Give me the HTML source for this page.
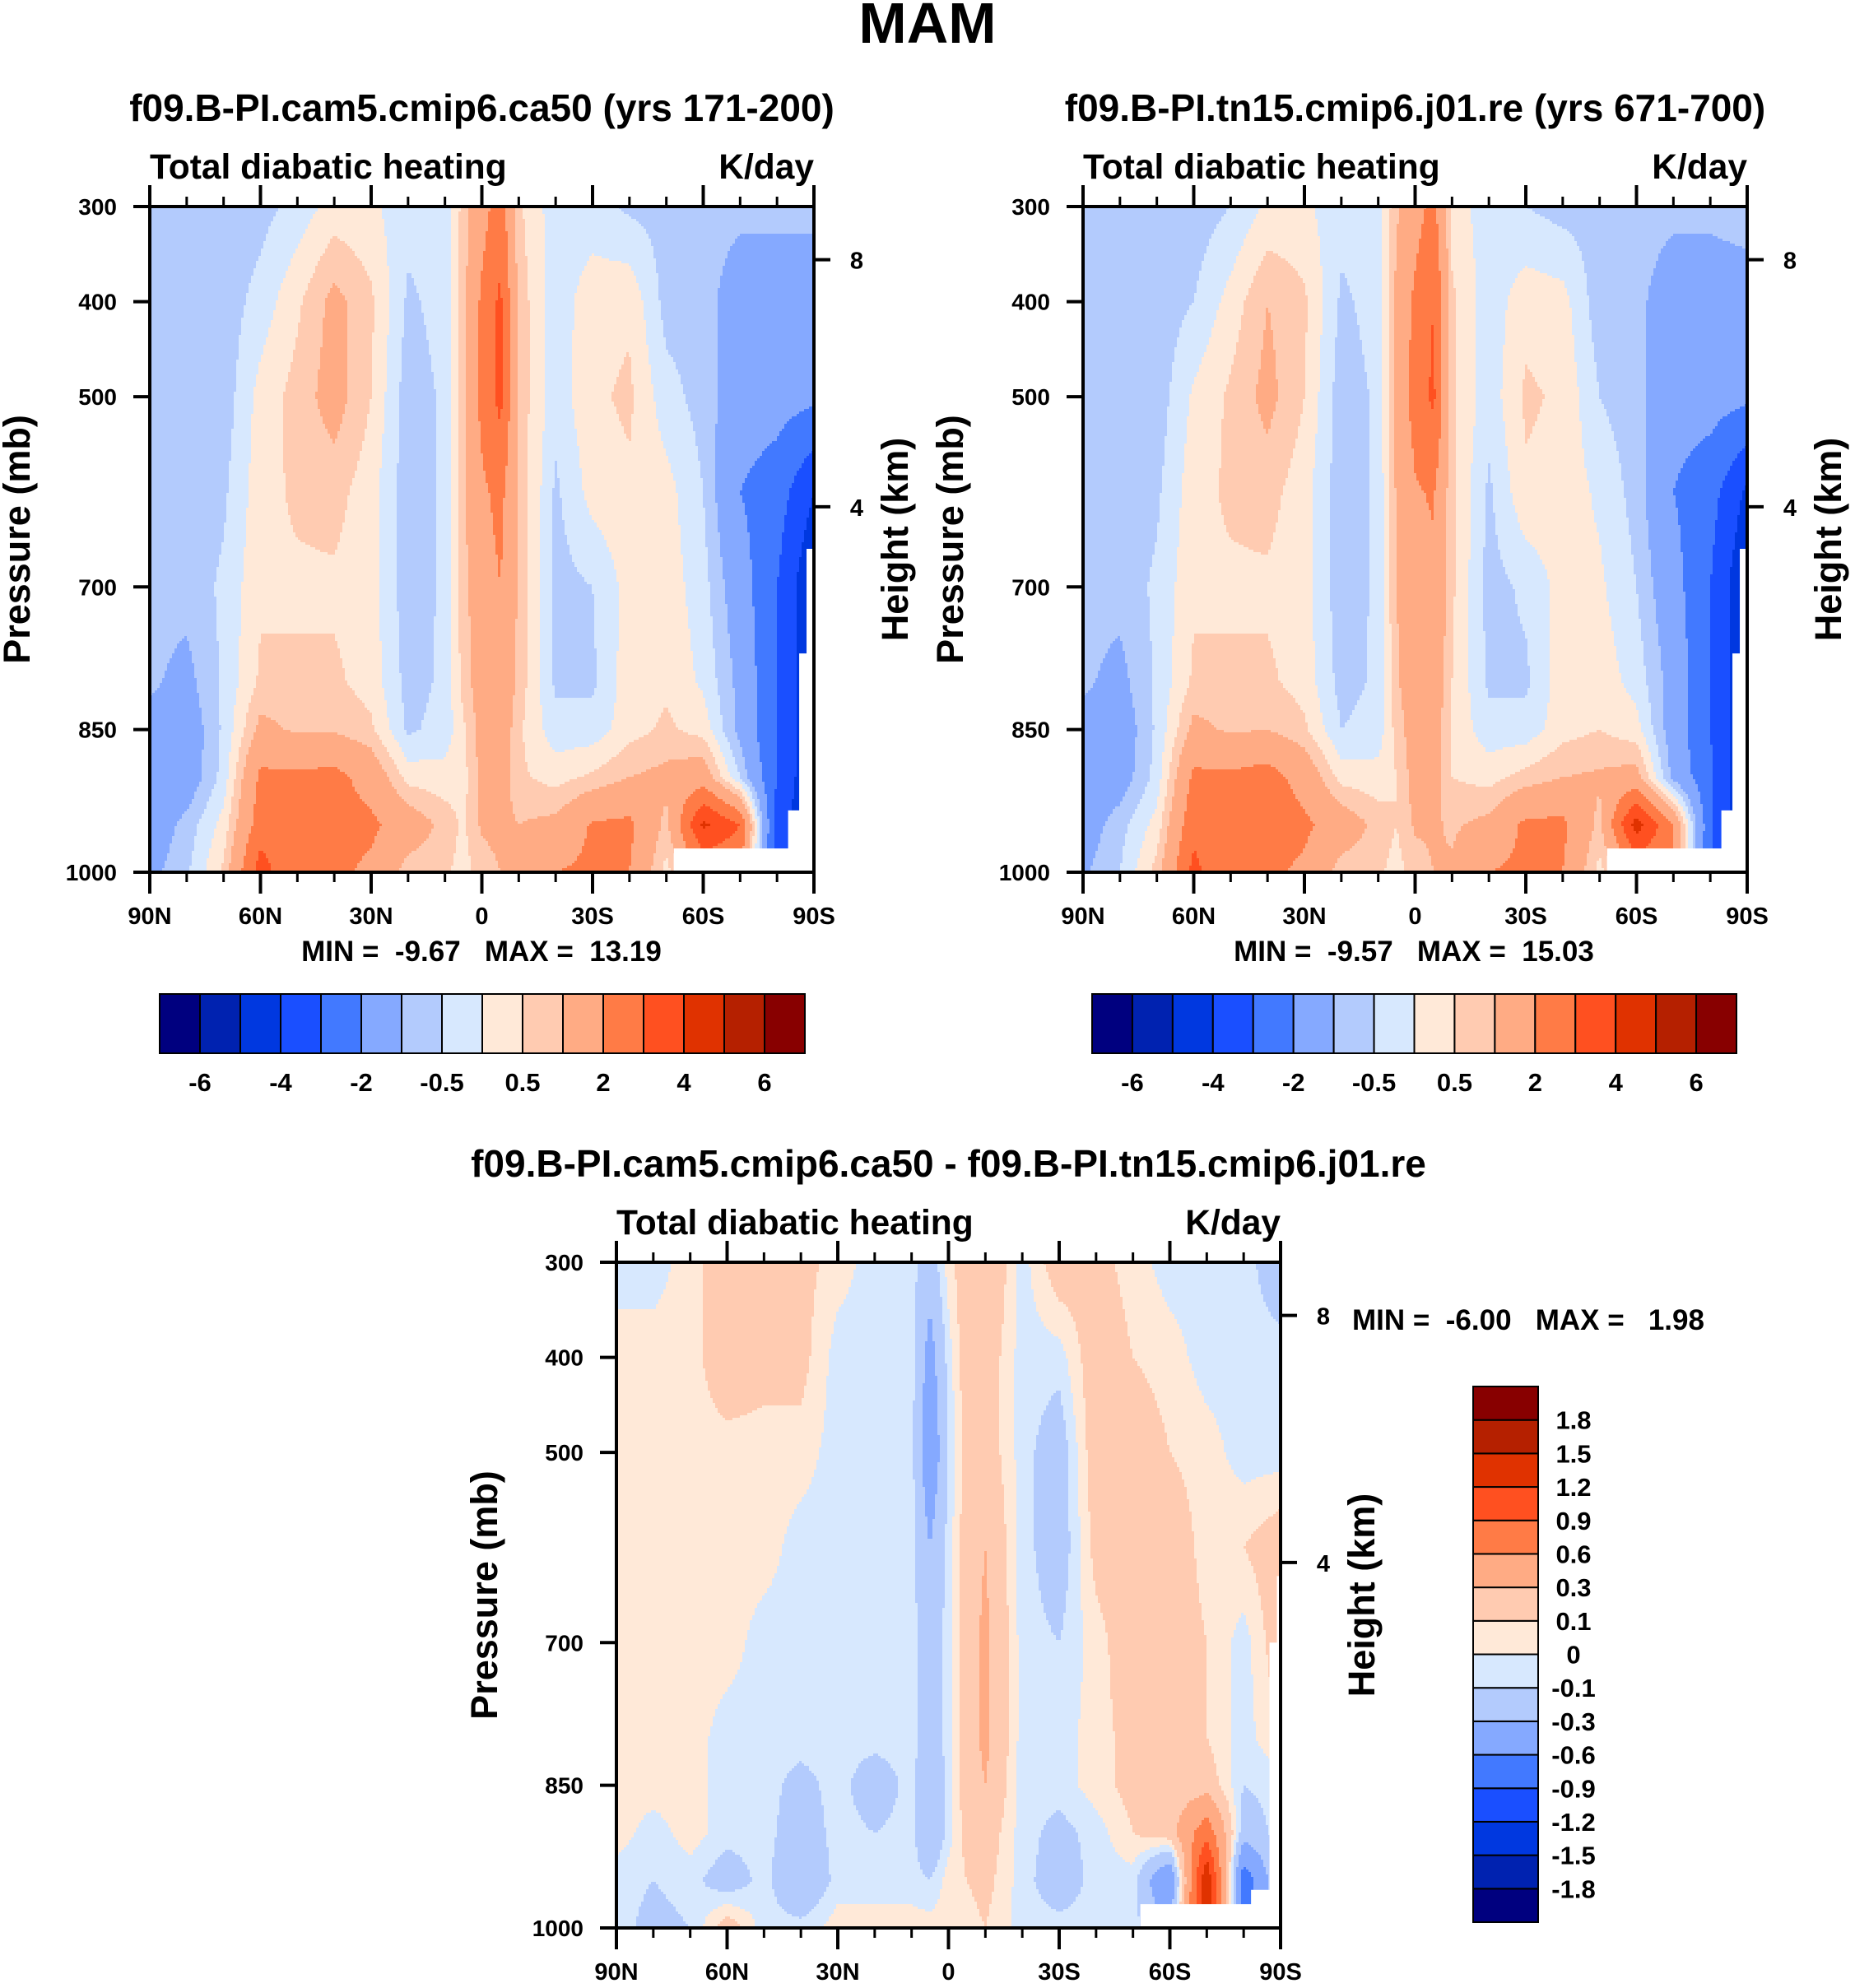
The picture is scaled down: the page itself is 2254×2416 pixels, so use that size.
<!DOCTYPE html>
<html><head><meta charset="utf-8">
<style>
html,body{margin:0;padding:0;background:#fff;}
svg{display:block;font-family:"Liberation Sans",Arial,sans-serif;font-weight:bold;}
.pre{white-space:pre;}
</style></head>
<body>
<svg id="fig" width="2254" height="2416" viewBox="0 0 2254 2416" xmlns="http://www.w3.org/2000/svg">
<rect width="2254" height="2416" fill="#fff"/>
<text x="1127" y="52" font-size="70" text-anchor="middle">MAM</text>
</svg>
<script>
// ---- data ----
const lats = [90,80,70,60,50,40,30,20,10,5,0,-5,-10,-20,-30,-40,-50,-60,-70,-80,-90];
const levels = [300,400,500,600,700,800,850,900,950,1000];
const pressureTicks = [300,400,500,700,850,1000];
const heightTicks = [8,4];
const latTickVals = [90,60,30,0,-30,-60,-90];
const latTickLabels = ["90N","60N","30N","0","30S","60S","90S"];
const absBounds = [-6,-5,-4,-3,-2,-1,-0.5,0,0.5,1,2,3,4,5,6];
const absLabels = ["-6","-4","-2","-0.5","0.5","2","4","6"];
const absColors = ["#00007f","#0022b0","#0038e0","#1a4fff","#4279ff","#85a9ff","#b3cbfd","#d7e8fe","#ffe9d8","#ffcbb1","#ffab84","#ff7b46","#ff5020","#e03200","#b52000","#880000"];
const diffBounds = [-1.8,-1.5,-1.2,-0.9,-0.6,-0.3,-0.1,0,0.1,0.3,0.6,0.9,1.2,1.5,1.8];
const diffLabels = ["-1.8","-1.5","-1.2","-0.9","-0.6","-0.3","-0.1","0","0.1","0.3","0.6","0.9","1.2","1.5","1.8"];
// missing-data (below surface) outline: [lat, pressure]
const maskLatsAB = [-52,-83,-83,-86,-86,-88,-88,-90];
const maskPresAB = [975,975,935,935,770,770,660,660];
const maskLatsD = [-52,-82,-82,-87,-87,-89,-89,-90];
const maskPresD = [975,975,960,960,700,700,630,630];
const field1 = [
[-0.7,-0.8,-0.8,-0.8,-0.8,-0.9,-1.2,-1.5,-1.5,-1.2],
[-0.8,-0.8,-0.8,-0.8,-0.8,-1.2,-1.5,-1.5,-0.8,-0.6],
[-0.8,-0.8,-0.8,-0.6,-0.4,-0.4,-0.4,-0.3,0.2,0.6],
[-0.7,-0.3,0.2,0.3,0.4,0.6,1.2,2.2,2.5,3.5],
[-0.3,0.4,0.7,0.6,0.4,0.6,0.9,2.2,2.3,2.0],
[0.2,1.2,1.3,0.7,0.4,0.6,0.9,2.3,2.4,2.2],
[0.1,0.6,0.5,0.2,0.2,0.3,0.6,1.6,2.2,1.8],
[-0.3,-0.6,-0.8,-0.8,-0.8,-0.7,-0.6,0.3,1.5,0.7],
[-0.3,-0.3,-0.4,-0.4,-0.4,-0.4,-0.3,0.2,0.8,0.6],
[0.7,0.8,0.9,0.9,0.8,0.7,0.4,0.3,0.4,0.3],
[1.6,2.2,2.3,1.8,1.5,1.4,1.3,1.2,1.1,0.7],
[2.5,3.2,3.3,2.3,2.0,1.8,1.6,1.4,1.2,1.0],
[0.6,0.8,0.8,0.9,0.9,0.8,0.6,0.6,1.0,1.2],
[-0.3,-0.3,-0.3,-0.6,-0.7,-0.6,-0.3,0.3,1.2,2.0],
[-0.3,0.3,0.4,0.2,-0.5,-0.6,-0.3,0.6,2.1,2.2],
[-0.6,0.4,0.6,0.4,0.2,0.3,0.3,1.0,2.2,2.0],
[-0.7,-0.7,-0.3,0.2,0.3,0.4,0.6,1.2,0.8,0.3],
[-0.7,-0.7,-0.7,-0.5,-0.3,-0.1,0.3,1.5,4.2,2.0],
[-0.8,-1.5,-1.5,-2,-1.5,-1.2,-1.2,-0.5,3,2.0],
[-0.8,-1.5,-1.6,-2.5,-3,-3,-3,-3,-3.5,-3.5],
[-0.8,-1.5,-1.8,-4,-5,-5,-5,-5,-5,-5]
];
const field2 = [
[-0.7,-0.8,-0.8,-0.8,-0.8,-0.9,-1.2,-1.5,-1.4,-1.1],
[-0.8,-0.8,-0.8,-0.8,-0.8,-1.2,-1.5,-1.4,-0.7,-0.5],
[-0.8,-0.8,-0.8,-0.6,-0.4,-0.4,-0.4,-0.3,0.2,0.7],
[-0.8,-0.5,0.1,0.3,0.4,0.6,1.2,2.2,2.7,3.3],
[-0.5,0.2,0.6,0.6,0.4,0.6,0.9,2.2,2.3,2.0],
[0.1,1.0,1.2,0.7,0.4,0.6,1.0,2.4,2.6,2.2],
[0.1,0.6,0.5,0.2,0.2,0.3,0.6,1.6,2.2,1.8],
[-0.3,-0.6,-0.8,-0.8,-0.8,-0.7,-0.5,0.3,1.5,0.7],
[-0.3,-0.3,-0.4,-0.4,-0.4,-0.4,-0.3,0.2,0.8,0.6],
[0.9,1.2,1.3,1.1,1.0,0.9,0.7,0.5,0.5,0.3],
[1.6,2.2,2.4,1.9,1.6,1.5,1.4,1.3,1.1,0.7],
[2.3,3.0,3.2,2.1,1.8,1.6,1.4,1.3,1.1,1.0],
[0.3,0.6,0.6,0.6,0.6,0.5,0.4,0.5,0.9,1.1],
[-0.3,-0.3,-0.3,-0.6,-0.7,-0.6,-0.3,0.3,1.2,2.0],
[-0.5,0.3,0.6,0.4,-0.4,-0.6,-0.3,0.7,2.2,2.2],
[-0.7,0.2,0.4,0.3,0.2,0.3,0.3,1.0,2.2,2.0],
[-0.7,-0.8,-0.5,-0.1,0.1,0.3,0.5,1.1,0.8,0.3],
[-0.7,-0.8,-0.8,-0.7,-0.5,-0.2,0.2,1.3,4.5,2.0],
[-0.8,-1.5,-1.6,-2,-1.6,-1.3,-1.4,-1.2,2.0,2.0],
[-0.8,-1.5,-1.6,-2.6,-3,-3,-3,-2.8,-2.8,-3],
[-0.6,-1.5,-1.8,-4.2,-5,-5,-5,-5,-5,-5]
];
const field3 = [
[-0.05,0.05,0.05,0.05,0.05,0.05,0.05,0.05,-0.05,-0.05],
[-0.05,0.05,0.05,0.05,0.05,0.05,0.05,-0.05,-0.1,-0.15],
[0.05,0.05,0.05,0.05,0.05,0.05,0.05,0.05,-0.05,-0.1],
[0.2,0.2,0.05,0.05,0.05,-0.05,-0.05,-0.05,-0.2,0.2],
[0.2,0.15,0.05,0.05,-0.05,-0.05,-0.05,-0.05,-0.05,-0.05],
[0.15,0.15,0.05,-0.05,-0.05,-0.05,-0.15,-0.2,-0.3,-0.05],
[0.05,-0.05,-0.05,-0.05,-0.05,-0.05,-0.05,-0.05,-0.05,0.05],
[-0.05,-0.05,-0.05,-0.05,-0.05,-0.05,-0.2,-0.1,-0.05,0.05],
[-0.05,-0.05,-0.05,-0.05,-0.05,-0.05,-0.05,-0.05,-0.05,0.05],
[-0.2,-0.4,-0.5,-0.3,-0.2,-0.2,-0.3,-0.3,-0.1,0.05],
[0.05,-0.05,-0.1,-0.05,-0.05,-0.05,-0.05,-0.05,0.05,0.05],
[0.2,0.2,0.15,0.2,0.2,0.2,0.2,0.15,0.1,0.05],
[0.3,0.2,0.2,0.3,0.35,0.35,0.3,0.2,0.15,0.1],
[-0.05,-0.05,-0.05,-0.05,-0.05,-0.05,-0.05,-0.05,-0.05,-0.05],
[0.2,-0.05,-0.2,-0.2,-0.1,-0.05,-0.05,-0.15,-0.2,-0.05],
[0.15,0.2,0.2,0.15,0.05,0.05,0.05,-0.05,-0.05,-0.05],
[0.05,0.1,0.2,0.2,0.2,0.15,0.15,0.1,-0.05,-0.05],
[-0.05,0.05,0.1,0.2,0.2,0.15,0.15,0.2,-0.6,-0.3],
[-0.05,-0.05,0.05,0.05,0.1,0.1,0.2,0.8,1.5,1.5],
[-0.05,-0.05,-0.05,0.1,-0.05,-0.05,-0.1,-0.2,-0.8,-0.8],
[-0.2,-0.05,-0.05,0.2,0.2,0.1,-0.05,-0.05,-0.05,-0.05]
];

// ---- drawing ----
const NS = "http://www.w3.org/2000/svg";
const svg = document.getElementById("fig");
function mk(tag, attrs, parent, txt){
  const e = document.createElementNS(NS, tag);
  for (const k in attrs) e.setAttribute(k, attrs[k]);
  if (txt !== undefined) e.textContent = txt;
  (parent || svg).appendChild(e);
  return e;
}
function seg(arr, v, desc){
  for (let i=0;i<arr.length-1;i++){
    const a=arr[i], b=arr[i+1];
    if (desc ? (v<=a && v>=b) : (v>=a && v<=b)) return [i,(v-a)/(b-a)];
  }
  return [arr.length-2,1];
}
function sample(field, lat, p){
  const [i,tx] = seg(lats, lat, true);
  const [j,ty] = seg(levels, p, false);
  const a=field[i][j], b=field[i+1][j], c=field[i][j+1], d=field[i+1][j+1];
  return (a*(1-tx)+b*tx)*(1-ty) + (c*(1-tx)+d*tx)*ty;
}
function colorIdx(v, bounds){
  let k=0; while (k<bounds.length && v>=bounds[k]) k++; return k;
}
function drawPanel(o){
  const X0=o.x0, X1=o.x1, Y0=251+o.dy, Y1=1060+o.dy;
  const W=X1-X0, H=Y1-Y0;
  const xs = lat => X0 + (90-lat)/180*W;
  const ys = p => Y0 + (p-300)/700*H;
  const g = mk("g", {}, svg);
  
  
  const step = 3;
  for (let py=Y0; py<Y1; py+=step){
    const p = 300 + (py+step/2-Y0)/H*700;
    let runStart=X0, runC=null;
    for (let px=X0; px<=X1; px+=step){
      let c=null;
      if (px<X1){
        const lat = 90 - (px+step/2-X0)/W*180;
        const v = sample(o.field, lat, p);
        c = o.colors[colorIdx(v, o.bounds)];
      }
      if (c!==runC || px>=X1){
        if (runC!==null){
          const r = mk("rect", {x:runStart, y:py, width:Math.min(px,X1)-runStart+0.6, height:Math.min(step,Y1-py)+0.6, fill:runC}, g);
          
          
        }
        runStart=px; runC=c;
      }
    }
  }
  // surface mask
  let pts = o.maskLats.map((la,i)=>xs(la)+","+ys(o.maskPres[i])).join(" ");
  pts += " "+xs(-90)+","+Y1+" "+xs(o.maskLats[0])+","+Y1;
  const m = mk("polygon",{points:pts,fill:"#fff"});
  
  
  // frame
  const fr = mk("rect", {x:X0, y:Y0, width:W, height:H, fill:"none", stroke:"#000", "stroke-width":4});
  
  
  for (let lat=90; lat>=-90; lat-=10){
    const major = lat%30===0;
    const L = major?26:12, x=xs(lat);
    mk("line",{x1:x,y1:Y0,x2:x,y2:Y0-L,stroke:"#000","stroke-width":major?4:3});
    mk("line",{x1:x,y1:Y1,x2:x,y2:Y1+L,stroke:"#000","stroke-width":major?4:3});
  }
  latTickVals.forEach((lat,i)=>{
    const t = mk("text",{x:xs(lat),y:Y1+63,"font-size":29,"text-anchor":"middle"},svg,latTickLabels[i]);
    
    
  });
  pressureTicks.forEach(p=>{
    mk("line",{x1:X0,y1:ys(p),x2:X0-20,y2:ys(p),stroke:"#000","stroke-width":4});
    const t = mk("text",{x:X0-40,y:ys(p)+10,"font-size":28,"text-anchor":"end"},svg,String(p));
    
    
  });
  heightTicks.forEach(z=>{
    const p = 1065*Math.exp(-z/7.3);
    mk("line",{x1:X1,y1:ys(p),x2:X1+20,y2:ys(p),stroke:"#000","stroke-width":4});
    const t = mk("text",{x:X1+52,y:ys(p)+11,"font-size":29,"text-anchor":"middle"},svg,String(z));
    
    
  });
  const t1 = mk("text",{x:X0,y:Y0-34,"font-size":42.5},svg,"Total diabatic heating");
  
  
  const t2 = mk("text",{x:X1,y:Y0-34,"font-size":42.5,"text-anchor":"end"},svg,"K/day");
  
  
  const t3 = mk("text",{x:(X0+X1)/2,y:Y0-104,"font-size":46,"text-anchor":"middle"},svg,o.title);
  
  
  const cy=(Y0+Y1)/2;
  const ya = mk("text",{x:o.presX,y:cy,"font-size":45,"text-anchor":"middle",transform:`rotate(-90 ${o.presX} ${cy})`},svg,"Pressure (mb)");
  
  
  const yb = mk("text",{x:o.hgtX,y:cy,"font-size":45,"text-anchor":"middle",transform:`rotate(-90 ${o.hgtX} ${cy})`},svg,"Height (km)");
  
  
}
drawPanel({name:"panel-a",x0:182,x1:989,dy:0,field:field1,bounds:absBounds,colors:absColors,maskLats:maskLatsAB,maskPres:maskPresAB,title:"f09.B-PI.cam5.cmip6.ca50 (yrs 171-200)",presX:36,hgtX:1103});
drawPanel({name:"panel-b",x0:1316,x1:2123,dy:0,field:field2,bounds:absBounds,colors:absColors,maskLats:maskLatsAB,maskPres:maskPresAB,title:"f09.B-PI.tn15.cmip6.j01.re (yrs 671-700)",presX:1170,hgtX:2237});
drawPanel({name:"panel-diff",x0:749,x1:1556,dy:1283,field:field3,bounds:diffBounds,colors:absColors,maskLats:maskLatsD,maskPres:maskPresD,title:"f09.B-PI.cam5.cmip6.ca50 - f09.B-PI.tn15.cmip6.j01.re",presX:604,hgtX:1670});

// MIN/MAX
[[585,1168,"MIN =  -9.67   MAX =  13.19","middle"],[1718,1168,"MIN =  -9.57   MAX =  15.03","middle"],[1643,1616,"MIN =  -6.00   MAX =   1.98","start"]].forEach(a=>{
  const t = mk("text",{x:a[0],y:a[1],"font-size":35,"text-anchor":a[3],"class":"pre"},svg,a[2]);
  
  
});

function hbar(x0,x1,name){
  const w=(x1-x0)/absColors.length;
  absColors.forEach((c,i)=>{
    const r = mk("rect",{x:x0+i*w,y:1208,width:w,height:72,fill:c,stroke:"#000","stroke-width":2});
    
    
  });
  absLabels.forEach((l,i)=>{
    const t = mk("text",{x:x0+(2*i+1)*w,y:1326,"font-size":31,"text-anchor":"middle"},svg,l);
    
    
  });
}
hbar(194,978,"colorbar-a");
hbar(1327,2110,"colorbar-b");
(function(){
  const x0=1790,w=79,y0=1685,y1=2336,h=(y1-y0)/absColors.length;
  absColors.forEach((c,i)=>{
    const r = mk("rect",{x:x0,y:y1-(i+1)*h,width:w,height:h,fill:c,stroke:"#000","stroke-width":2});
    
    
  });
  diffLabels.forEach((l,i)=>{
    const t = mk("text",{x:1912,y:y1-(i+1)*h+11,"font-size":31,"text-anchor":"middle"},svg,l);
    
    
  });
})();
</script>
</body></html>
